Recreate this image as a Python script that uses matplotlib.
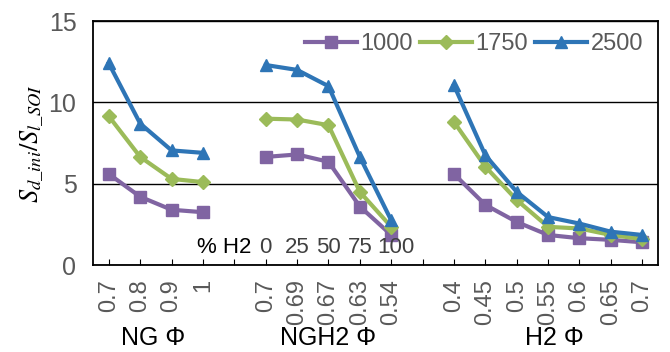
import numpy as np
import matplotlib.pyplot as plt

# category axis: three groups separated by an empty slot
phi_labels = ['0.7', '0.8', '0.9', '1', '',
              '0.7', '0.69', '0.67', '0.63', '0.54', '',
              '0.4', '0.45', '0.5', '0.55', '0.6', '0.65', '0.7']
h2_pct = ['0', '25', '50', '75', '100']
groups = ['NG Φ', 'NGH2 Φ', 'H2 Φ']

nan = np.nan
s1000 = [5.6, 4.2, 3.4, 3.25, nan,
         6.65, 6.8, 6.35, 3.6, 1.85, nan,
         5.6, 3.7, 2.65, 1.85, 1.65, 1.55, 1.4]
s1750 = [9.15, 6.65, 5.3, 5.1, nan,
         9.0, 8.95, 8.6, 4.5, 2.35, nan,
         8.8, 6.05, 4.0, 2.35, 2.25, 1.85, 1.6]
s2500 = [12.4, 8.7, 7.05, 6.9, nan,
         12.3, 12.0, 11.0, 6.65, 2.75, nan,
         11.05, 6.75, 4.5, 2.95, 2.55, 2.05, 1.85]

plt.rcParams['font.family'] = ['Liberation Sans', 'DejaVu Sans']
plt.rcParams['mathtext.fontset'] = 'stix'

fig = plt.figure(figsize=(6.7, 3.52), dpi=100)
ax = fig.add_axes([0.139, 0.247, 0.843, 0.693])

x = np.arange(len(phi_labels))
series = [('1000', s1000, '#8064A2', 's', 8),
          ('1750', s1750, '#9BBB59', 'D', 7),
          ('2500', s2500, '#2E75B6', '^', 9)]
for name, vals, col, mk, ms in series:
    ax.plot(x, vals, color=col, lw=3, marker=mk, markersize=ms, label=name)

ax.set_xlim(-0.5, len(phi_labels) - 0.5)
ax.set_ylim(0, 15)
ax.set_yticks([0, 5, 10, 15])
ax.grid(axis='y', color='black', lw=1)
for sp in ax.spines.values():
    sp.set_color('black')
    sp.set_linewidth(1.3)

ax.set_xticks(x)
ax.set_xticklabels(phi_labels, rotation=90)
ax.tick_params(axis='x', direction='in', length=4, colors='black', labelcolor='#595959',
               labelsize=17, pad=10)
ax.tick_params(axis='y', length=0, labelcolor='#595959', labelsize=18, pad=12)

ax.set_ylabel(r'$S_{d\_ini}/S_{l\_SOI}$', fontsize=19, labelpad=2)

# % H2 annotation for NGH2 group
ax.text(4.55, 1.1, '% H2', ha='right', va='center', fontsize=16, color='black')
for i, t in enumerate(h2_pct):
    ax.text(5 + i + (0.15 if t == '100' else 0), 1.1, t, ha='center', va='center',
            fontsize=16, color='#404040')

# group labels under the tick labels
for gx, g in zip([1.4, 7, 14.2], groups):
    ax.text(gx, -0.3, g, transform=ax.get_xaxis_transform(), ha='center',
            va='center', fontsize=18, color='black')

ax.legend(loc='upper right', ncol=3, frameon=False, fontsize=17, handlelength=2.2,
          handletextpad=0.15, columnspacing=0.3, borderaxespad=0.1,
          labelcolor='#595959', bbox_to_anchor=(0.995, 1.0))

fig.savefig('out.png', dpi=100)
